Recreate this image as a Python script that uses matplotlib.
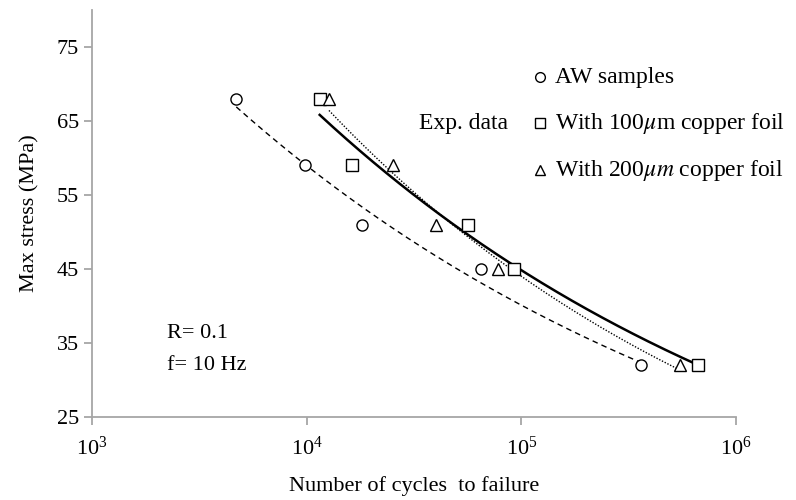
import numpy as np
import matplotlib.pyplot as plt
from matplotlib.lines import Line2D

plt.rcParams['font.family'] = ['Liberation Serif', 'DejaVu Serif']
plt.rcParams['mathtext.fontset'] = 'stix'

# esfuerzo maximo (MPa) y ciclos a falla de cada serie
esfuerzo = [68, 59, 51, 45, 32]
ciclos_aw = [4700, 9800, 18200, 65000, 360000]
ciclos_100 = [11500, 16200, 56600, 92700, 662000]
ciclos_200 = [12700, 25300, 40000, 78000, 548000]

gris = '#a6a6a6'

fig = plt.figure(figsize=(7.96, 5.0), dpi=100)
ax = fig.add_axes([92 / 796, 83 / 500, 644 / 796, 407 / 500])


def tendencia(ciclos, estilo, ancho):
    # linea de tendencia potencial entre el primer y ultimo punto
    b, a = np.polyfit(np.log10(ciclos), np.log10(esfuerzo), 1)
    n = np.logspace(np.log10(min(ciclos)), np.log10(max(ciclos)), 200)
    ax.plot(n, 10 ** a * n ** b, color='black', linestyle=estilo, linewidth=ancho)


tendencia(ciclos_aw, (0, (4, 3)), 1.0)
tendencia(ciclos_100, '-', 1.8)
tendencia(ciclos_200, (0, (1, 1.2)), 1.0)

mk = dict(linestyle='none', markerfacecolor='white', markeredgecolor='black',
          markeredgewidth=1.0, markersize=8)
ax.plot(ciclos_aw, esfuerzo, marker='o', **mk)
ax.plot(ciclos_100, esfuerzo, marker='s', **mk)
ax.plot(ciclos_200, esfuerzo, marker='^', **mk)

ax.set_xscale('log')
ax.set_xlim(1e3, 1e6)
ax.set_ylim(25, 80)
ax.set_yticks([25, 35, 45, 55, 65, 75])
ax.set_xticks([1e3, 1e4, 1e5, 1e6])
ax.minorticks_off()

for lado in ['top', 'right']:
    ax.spines[lado].set_visible(False)
for lado in ['left', 'bottom']:
    ax.spines[lado].set_color(gris)
    ax.spines[lado].set_linewidth(1.3)
ax.tick_params(axis='both', colors=gris, labelcolor='black', labelsize=16,
               length=6, width=1.3, direction='out')
ax.tick_params(axis='x', pad=8)

ax.set_xlabel('Number of cycles  to failure', fontsize=16, labelpad=12)
ax.set_ylabel('Max stress (MPa)', fontsize=16, labelpad=12)

fig.text(167 / 796, 1 - 334 / 500, 'R= 0.1', fontsize=16, va='center')
fig.text(167 / 796, 1 - 365 / 500, 'f= 10 Hz', fontsize=16, va='center')

# leyenda de los datos experimentales
fig.text(419 / 796, 1 - 123 / 500, 'Exp. data', fontsize=17, va='center')
filas = [('o', 'AW samples', 77),
         ('s', r'With 100$\mu$m copper foil', 123),
         ('^', r'With 200$\mu m$ copper foil', 170)]
for marca, texto, y in filas:
    fig.add_artist(Line2D([540 / 796], [1 - y / 500], marker=marca,
                          markersize=7, markerfacecolor='white',
                          markeredgecolor='black', markeredgewidth=1.0))
    fig.text(555 / 796, 1 - y / 500, texto, fontsize=17, va='center')

fig.savefig('out.png', dpi=100)
